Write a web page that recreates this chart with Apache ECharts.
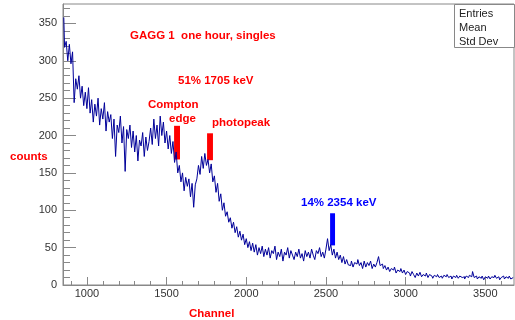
<!DOCTYPE html>
<html>
<head>
<meta charset="utf-8">
<script src="https://cdn.jsdelivr.net/npm/echarts@6/dist/echarts.min.js"></script>
<style>
html,body{margin:0;padding:0;background:#fff;}
#chart{width:515px;height:320px;}
</style>
</head>
<body>
<div id="chart"></div>
<script>
// Histogram: bins of 10 channels starting at channel 850
const binStart = 850;
const binWidth = 10;
const counts = [
  358, 318, 326, 300, 322, 296, 312, 244, 276, 262,
  280, 250, 266, 240, 258, 236, 264, 230, 248, 218,
  242, 226, 250, 214, 236, 222, 244, 206, 232, 218,
  228, 196, 222, 172, 214, 204, 226, 190, 212, 152,
  208, 196, 214, 184, 206, 178, 200, 166, 194, 186,
  204, 172, 198, 180, 192, 210, 188, 222, 196, 214,
  186, 226, 200, 218, 190, 206, 182, 200, 176, 192,
  164, 178, 150, 160, 138, 150, 126, 144, 132, 142,
  118, 136, 104, 134, 142, 160, 148, 172, 156, 176,
  160, 168, 150, 162, 138, 146, 124, 136, 112, 122,
  100, 110, 92, 98, 84, 90, 76, 84, 70, 78,
  64, 72, 60, 68, 54, 62, 50, 58, 46, 56,
  44, 54, 40, 50, 42, 52, 38, 48, 40, 50,
  36, 46, 42, 52, 34, 44, 38, 48, 32, 44,
  40, 50, 36, 46, 40, 34, 44, 38, 48, 36,
  42, 32, 46, 38, 44, 36, 48, 40, 34, 46,
  42, 50, 38, 44, 36, 48, 62, 46, 54, 40,
  48, 36, 44, 34, 40, 30, 38, 28, 34, 27,
  26, 32, 24, 30, 28, 34, 26, 30, 22, 32,
  24, 30, 26, 32, 22, 28, 24, 30, 38, 26,
  28, 22, 26, 20, 24, 18, 22, 20, 24, 16,
  20, 18, 22, 16, 20, 14, 18, 16, 12, 18,
  14, 10, 16, 12, 17, 11, 14, 12, 16, 10,
  14, 12, 9, 13, 11, 14, 10, 12, 9, 13,
  11, 14, 10, 12, 8, 12, 10, 13, 9, 12,
  10, 11, 8, 12, 10, 13, 11, 18, 10, 12,
  8, 11, 9, 12, 7, 11, 9, 12, 8, 11,
  10, 13, 9, 11, 7, 10, 12, 8, 11, 9,
  12, 8, 10
];
const xMajorTicks = [1000, 1500, 2000, 2500, 3000, 3500];
const xMinorTicks = [900,1100,1200,1300,1400,1600,1700,1800,1900,2100,2200,2300,2400,2600,2700,2800,2900,3100,3200,3300,3400,3600];
const yMajorTicks = [0, 50, 100, 150, 200, 250, 300, 350];
const yMinorTicks = [10,20,30,40,60,70,80,90,110,120,130,140,160,170,180,190,210,220,230,240,260,270,280,290,310,320,330,340,360,370];
// marker boxes: [channelFrom, channelTo, countFrom, countTo]
const comptonMarker = [1547, 1584, 168, 213];
const photopeakMarker = [1754, 1791, 167, 203];
const blueMarker = [2526, 2557, 53, 96];

const seriesData = counts.map((c, i) => [binStart + i * binWidth + binWidth / 2, c]);

const font = 'Liberation Sans, Arial, Helvetica, sans-serif';
const axisColor = '#888';
const plain = v => String(v);
const chart = echarts.init(document.getElementById('chart'), null, {renderer: 'canvas'});

const xBase = {type: 'value', min: 850, max: 3680, gridIndex: 0, splitLine: {show: false}};
const yBase = {type: 'value', min: 0, max: 376, gridIndex: 0, splitLine: {show: false}};

chart.setOption({
  animation: false,
  backgroundColor: '#fff',
  grid: {left: 63, right: 1, top: 4, bottom: 35, show: true, borderColor: axisColor, borderWidth: 1, backgroundColor: 'transparent'},
  xAxis: [
    Object.assign({}, xBase, {
      position: 'bottom',
      axisLine: {show: true, lineStyle: {color: axisColor, width: 1}},
      axisTick: {show: true, inside: true, length: 8, customValues: xMajorTicks, lineStyle: {color: axisColor}},
      axisLabel: {show: true, customValues: xMajorTicks, formatter: plain, margin: 3, color: '#333', fontSize: 11, fontFamily: font}
    }),
    Object.assign({}, xBase, {
      position: 'bottom',
      axisLine: {show: false},
      axisTick: {show: true, inside: true, length: 4, customValues: xMinorTicks, lineStyle: {color: axisColor}},
      axisLabel: {show: false}
    })
  ],
  yAxis: [
    Object.assign({}, yBase, {
      position: 'left',
      axisLine: {show: true, lineStyle: {color: axisColor, width: 1}},
      axisTick: {show: true, inside: true, length: 13, customValues: yMajorTicks, lineStyle: {color: axisColor}},
      axisLabel: {show: true, customValues: yMajorTicks, formatter: plain, margin: 6, color: '#333', fontSize: 11, fontFamily: font}
    }),
    Object.assign({}, yBase, {
      position: 'left',
      axisLine: {show: false},
      axisTick: {show: true, inside: true, length: 7, customValues: yMinorTicks, lineStyle: {color: axisColor}},
      axisLabel: {show: false}
    })
  ],
  series: [{
    type: 'line',
    xAxisIndex: 0,
    yAxisIndex: 0,
    data: seriesData,
    step: 'middle',
    showSymbol: false,
    symbol: 'none',
    lineStyle: {color: '#000099', width: 1},
    markArea: {
      silent: true,
      data: [
        [{xAxis: comptonMarker[0], yAxis: comptonMarker[2], itemStyle: {color: '#ff0000', opacity: 1}}, {xAxis: comptonMarker[1], yAxis: comptonMarker[3]}],
        [{xAxis: photopeakMarker[0], yAxis: photopeakMarker[2], itemStyle: {color: '#ff0000', opacity: 1}}, {xAxis: photopeakMarker[1], yAxis: photopeakMarker[3]}],
        [{xAxis: blueMarker[0], yAxis: blueMarker[2], itemStyle: {color: '#0000ff', opacity: 1}}, {xAxis: blueMarker[1], yAxis: blueMarker[3]}]
      ]
    }
  }],
  graphic: [
    {type: 'text', x: 130, y: 35.5, style: {text: 'GAGG 1  one hour, singles', fill: '#ff0000', font: 'bold 11.5px ' + font, textVerticalAlign: 'middle'}},
    {type: 'text', x: 178, y: 81, style: {text: '51% 1705 keV', fill: '#ff0000', font: 'bold 11.5px ' + font, textVerticalAlign: 'middle'}},
    {type: 'text', x: 148, y: 105, style: {text: 'Compton', fill: '#ff0000', font: 'bold 11.5px ' + font, textVerticalAlign: 'middle'}},
    {type: 'text', x: 169, y: 118.5, style: {text: 'edge', fill: '#ff0000', font: 'bold 11.5px ' + font, textVerticalAlign: 'middle'}},
    {type: 'text', x: 212, y: 123, style: {text: 'photopeak', fill: '#ff0000', font: 'bold 11.5px ' + font, textVerticalAlign: 'middle'}},
    {type: 'text', x: 10, y: 157, style: {text: 'counts', fill: '#ff0000', font: 'bold 11.5px ' + font, textVerticalAlign: 'middle'}},
    {type: 'text', x: 189, y: 313.5, style: {text: 'Channel', fill: '#ff0000', font: 'bold 11.5px ' + font, textVerticalAlign: 'middle'}},
    {type: 'text', x: 301, y: 203, style: {text: '14% 2354 keV', fill: '#0000ff', font: 'bold 11.5px ' + font, textVerticalAlign: 'middle'}},
    {type: 'rect', shape: {x: 454.5, y: 4.5, width: 60, height: 43}, style: {fill: '#fff', stroke: axisColor, lineWidth: 1}, z: 10},
    {type: 'text', x: 459, y: 13.5, z: 11, style: {text: 'Entries', fill: '#222', font: '11px ' + font, textVerticalAlign: 'middle'}},
    {type: 'text', x: 459, y: 27.5, z: 11, style: {text: 'Mean', fill: '#222', font: '11px ' + font, textVerticalAlign: 'middle'}},
    {type: 'text', x: 459, y: 42, z: 11, style: {text: 'Std Dev', fill: '#222', font: '11px ' + font, textVerticalAlign: 'middle'}}
  ]
});
</script>
</body>
</html>
